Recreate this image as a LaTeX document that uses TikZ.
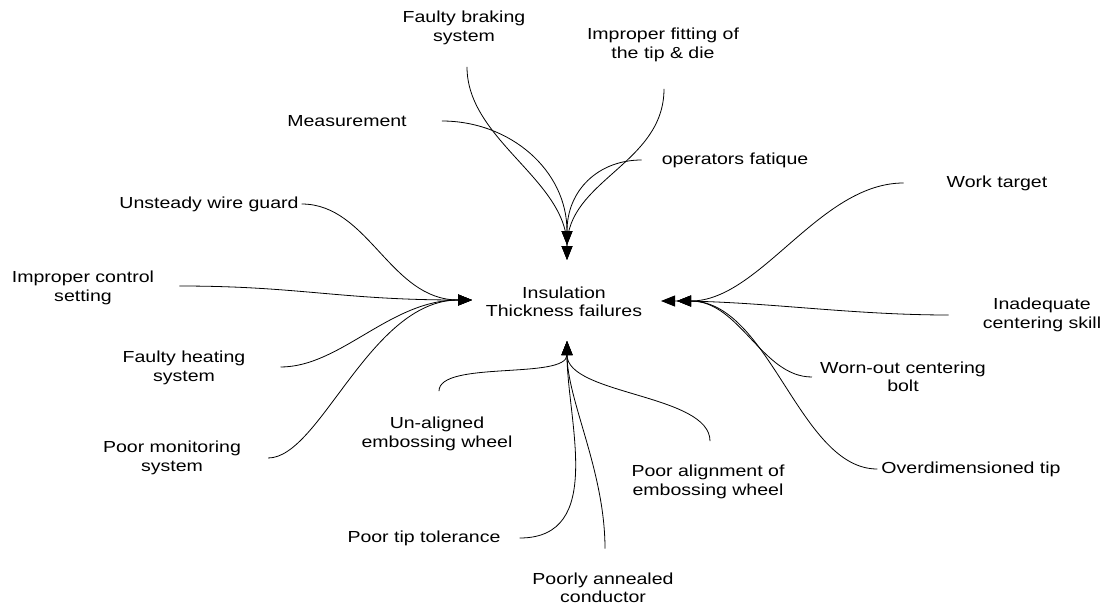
\documentclass[tikz,border=0pt]{standalone}
\usepackage{fontspec}
\setmainfont[FakeStretch=1.22]{Liberation Sans}
\usetikzlibrary{arrows.meta,calc}
\begin{document}
\begin{tikzpicture}[x=1pt,y=-1pt,
  lbl/.style={inner sep=0pt, align=center, font=\fontsize{16}{18.5}\selectfont},
  cause/.style={line width=0.8pt, -{Triangle[length=14pt,width=11pt]}},
]
\useasboundingbox (0,0) rectangle (1108,608);

% effect
\node[lbl] (eff) at (564,302) {Insulation\\Thickness failures};

% causes
\node[lbl] (fbs) at (464,28) {Faulty braking\\system};
\node[lbl] (ift) at (663,45) {Improper fitting of\\the tip \& die};
\node[lbl] (mea) at (347,121) {Measurement};
\node[lbl] (opf) at (735,160) {operators fatique};
\node[lbl] (uwg) at (209,204) {Unsteady wire guard};
\node[lbl] (ics) at (83,288) {Improper control\\setting};
\node[lbl] (fhs) at (184,368) {Faulty heating\\system};
\node[lbl] (pms) at (172,458) {Poor monitoring\\system};
\node[lbl] (uew) at (437,434) {Un-aligned\\embossing wheel};
\node[lbl] (ptt) at (424,538) {Poor tip tolerance};
\node[lbl] (pac) at (603,588) {Poorly annealed\\conductor};
\node[lbl] (pae) at (708,482) {Poor alignment of\\embossing wheel};
\node[lbl] (odt) at (971,469) {Overdimensioned tip};
\node[lbl] (wcb) at (903,377) {Worn-out centering\\bolt};
\node[lbl] (icsk) at (1042,315) {Inadequate\\centering skill};
\node[lbl] (wtg) at (997,183) {Work target};

% arrow tips around the effect
\coordinate (tTopA) at (567,245);
\coordinate (tTopB) at (567,260);
\coordinate (tLeft) at (472,300);
\coordinate (tRightA) at (661,301);
\coordinate (tRightB) at (677,301);
\coordinate (tBottom) at (567,341);

% from above
\draw[cause] ($(fbs.south)+(3,22)$) .. controls +(0,73) and +(0,-80) .. (tTopB);
\draw[cause] ($(ift.south)+(1,27)$) .. controls +(0,75) and +(0,-80) .. (tTopB);
\draw[cause] ($(mea.east)+(35,0)$) .. controls +(68,0) and +(0,-75) .. (tTopA);
\draw[cause] ($(opf.west)+(-20,0)$) .. controls +(-43,0) and +(0,-55) .. (tTopA);

% from the left
\draw[cause] ($(uwg.east)+(3,0)$) .. controls +(67,0) and +(-82,0) .. (tLeft);
\draw[cause] ($(ics.east)+(25,-2)$) .. controls +(120,0) and +(-132,0) .. (tLeft);
\draw[cause] ($(fhs.east)+(35,-1)$) .. controls +(60,0) and +(-82,0) .. (tLeft);
\draw[cause] ($(pms.east)+(27,0)$) .. controls +(52,0) and +(-102,0) .. (tLeft);

% from below
\draw[cause] ($(uew.north)+(2,-26)$) .. controls +(0,-31) and +(0,39) .. (tBottom);
\draw[cause] ($(pae.north)+(2,-24)$) .. controls +(0,-47) and +(0,54) .. (tBottom);
\draw[cause] ($(ptt.east)+(19,0)$) .. controls +(86,0) and +(0,79) .. (tBottom);
\draw[cause] ($(pac.north)+(2,-24)$) .. controls +(0,-78) and +(0,59) .. (tBottom);

% from the right
\draw[cause] ($(wtg.west)+(-43,0)$) .. controls +(-84,0) and +(83,0) .. (tRightB);
\draw[cause] ($(icsk.west)+(-34,0)$) .. controls +(-100,0) and +(99,0) .. (tRightA);
\draw[cause] ($(wcb.west)+(-8,0)$) .. controls +(-50,0) and +(63,0) .. (tRightB);
\draw[cause] ($(odt.west)+(-4,0)$) .. controls +(-78,0) and +(93,0) .. (tRightB);
\end{tikzpicture}
\end{document}
